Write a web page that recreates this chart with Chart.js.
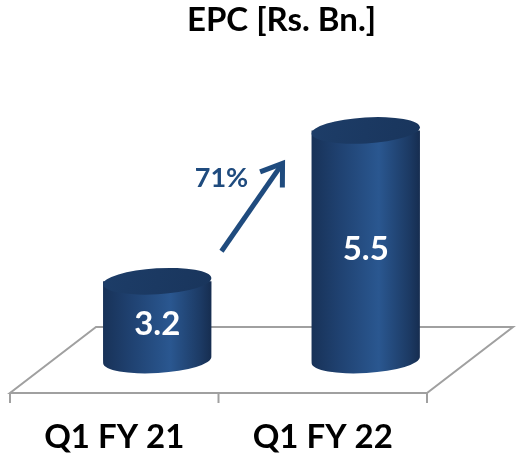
<!DOCTYPE html>
<html>
<head>
<meta charset="utf-8">
<script src="https://cdn.jsdelivr.net/npm/chart.js@4"></script>
<style>
  html, body { margin: 0; padding: 0; background: #fff; }
  #wrap { width: 528px; height: 462px; }
</style>
</head>
<body>
<div id="wrap"><canvas id="epc-chart"></canvas></div>
<script>
const categories = ['Q1 FY 21', 'Q1 FY 22'];
const epcValues = [3.2, 5.5];
const valueLabels = ['3.2', '5.5'];
const growthLabel = '71%';
const yMin = 2, yMax = 6;

const FONT = 'Lato, "Open Sans", sans-serif';
const DEPTH_X = 86, DEPTH_Y = 66;      // floor depth (3d look)
const TITLE_SHIFT = 63;                // title sits over the floor, not the front edge

// floor parallelogram + ticks under the category axis
const floorPlugin = {
    id: 'floor',
    afterLayout(chart) {
        chart.titleBlock.left += TITLE_SHIFT;
        chart.titleBlock.right += TITLE_SHIFT;
    },
    beforeDatasetsDraw(chart) {
        const ctx = chart.ctx, a = chart.chartArea;
        const y0 = a.bottom;
        ctx.save();
        ctx.strokeStyle = '#a0a0a0';
        ctx.lineWidth = 2;
        ctx.beginPath();
        ctx.moveTo(a.left, y0);
        ctx.lineTo(a.right, y0);
        ctx.lineTo(a.right + DEPTH_X, y0 - DEPTH_Y);
        ctx.lineTo(a.left + DEPTH_X, y0 - DEPTH_Y);
        ctx.closePath();
        ctx.stroke();
        // tick marks at category borders
        const n = categories.length;
        for (let i = 0; i <= n; i++) {
            const x = a.left + (a.right - a.left) * i / n;
            ctx.beginPath();
            ctx.moveTo(x, y0);
            ctx.lineTo(x, y0 + 10);
            ctx.stroke();
        }
        ctx.restore();
    }
};

// draw each bar as a cylinder, centred in the floor depth
const cylinderPlugin = {
    id: 'cylinder',
    afterDatasetsDraw(chart) {
        const ctx = chart.ctx;
        const meta = chart.getDatasetMeta(0);
        const tops = [];
        meta.data.forEach((bar, i) => {
            const p = bar.getProps(['x', 'y', 'base', 'width'], true);
            const cx = p.x + DEPTH_X / 2, w = p.width, rx = w / 2, ry = 13;
            const top = p.y - DEPTH_Y / 2, bottom = p.base - DEPTH_Y / 2;
            const left = cx - rx, right = cx + rx;
            const tilt = -0.06;
            tops.push({ cx, top, left, right });

            const body = ctx.createLinearGradient(left, 0, right, 0);
            body.addColorStop(0, '#183258');
            body.addColorStop(0.25, '#1f4170');
            body.addColorStop(0.62, '#2a5790');
            body.addColorStop(0.9, '#1c3a64');
            body.addColorStop(1, '#162d50');

            ctx.save();
            ctx.fillStyle = body;
            ctx.beginPath();
            ctx.moveTo(left, top);
            ctx.lineTo(left, bottom);
            ctx.ellipse(cx, bottom, rx, ry, tilt, Math.PI, 0, true);
            ctx.lineTo(right, top);
            ctx.closePath();
            ctx.fill();

            const cap = ctx.createLinearGradient(left, top - ry, right, top + ry);
            cap.addColorStop(0, '#1d3d68');
            cap.addColorStop(1, '#19355c');
            ctx.fillStyle = cap;
            ctx.beginPath();
            ctx.ellipse(cx, top, rx, ry, tilt, 0, Math.PI * 2);
            ctx.fill();

            // value label
            ctx.fillStyle = '#ffffff';
            ctx.font = 'bold 33px ' + FONT;
            ctx.textAlign = 'center';
            ctx.textBaseline = 'middle';
            ctx.fillText(valueLabels[i], cx, (top + bottom) / 2 + 4);
            ctx.restore();
        });

        // growth arrow between the two bars
        const x1 = tops[0].right + 10, ya = tops[0].top - 30;
        const x2 = tops[1].left - 29, yb = tops[1].top + 33;
        ctx.save();
        ctx.strokeStyle = '#1f4b7e';
        ctx.lineWidth = 5;
        ctx.beginPath();
        ctx.moveTo(x1, ya);
        ctx.lineTo(x2, yb);
        ctx.stroke();
        const ang = Math.atan2(yb - ya, x2 - x1);
        const hl = 24;
        ctx.lineJoin = 'miter';
        ctx.beginPath();
        ctx.moveTo(x2 + hl * Math.cos(ang + Math.PI - 0.6), yb + hl * Math.sin(ang + Math.PI - 0.6));
        ctx.lineTo(x2, yb);
        ctx.lineTo(x2 + hl * Math.cos(ang + Math.PI + 0.6), yb + hl * Math.sin(ang + Math.PI + 0.6));
        ctx.stroke();
        ctx.fillStyle = '#1f4b7e';
        ctx.font = 'bold 27px ' + FONT;
        ctx.textAlign = 'center';
        ctx.textBaseline = 'middle';
        ctx.fillText(growthLabel, x1, yb + 15);
        ctx.restore();
    }
};

new Chart(document.getElementById('epc-chart'), {
    type: 'bar',
    data: {
        labels: categories,
        datasets: [{
            data: epcValues,
            base: yMin,
            backgroundColor: 'rgba(0,0,0,0)',
            borderWidth: 0,
            barPercentage: 0.52,
            categoryPercentage: 1
        }]
    },
    options: {
        responsive: true,
        maintainAspectRatio: false,
        animation: false,
        layout: { padding: { left: 10, right: 101, top: 0, bottom: 0 } },
        plugins: {
            legend: { display: false },
            tooltip: { enabled: false },
            title: {
                display: true,
                text: 'EPC [Rs. Bn.]',
                color: '#000',
                font: { family: FONT, size: 33, weight: 'bold', lineHeight: 1.2 },
                padding: { top: 1, bottom: 90 }
            }
        },
        scales: {
            x: {
                grid: { display: false, drawTicks: false },
                border: { display: false },
                ticks: {
                    color: '#000',
                    padding: 25,
                    maxRotation: 0,
                    font: { family: FONT, size: 33, weight: 'bold', lineHeight: 1.2 }
                },
                afterFit(scale) { scale.height = 69; }
            },
            y: {
                display: false,
                min: yMin,
                max: yMax
            }
        }
    },
    plugins: [floorPlugin, cylinderPlugin]
});
</script>
</body>
</html>
